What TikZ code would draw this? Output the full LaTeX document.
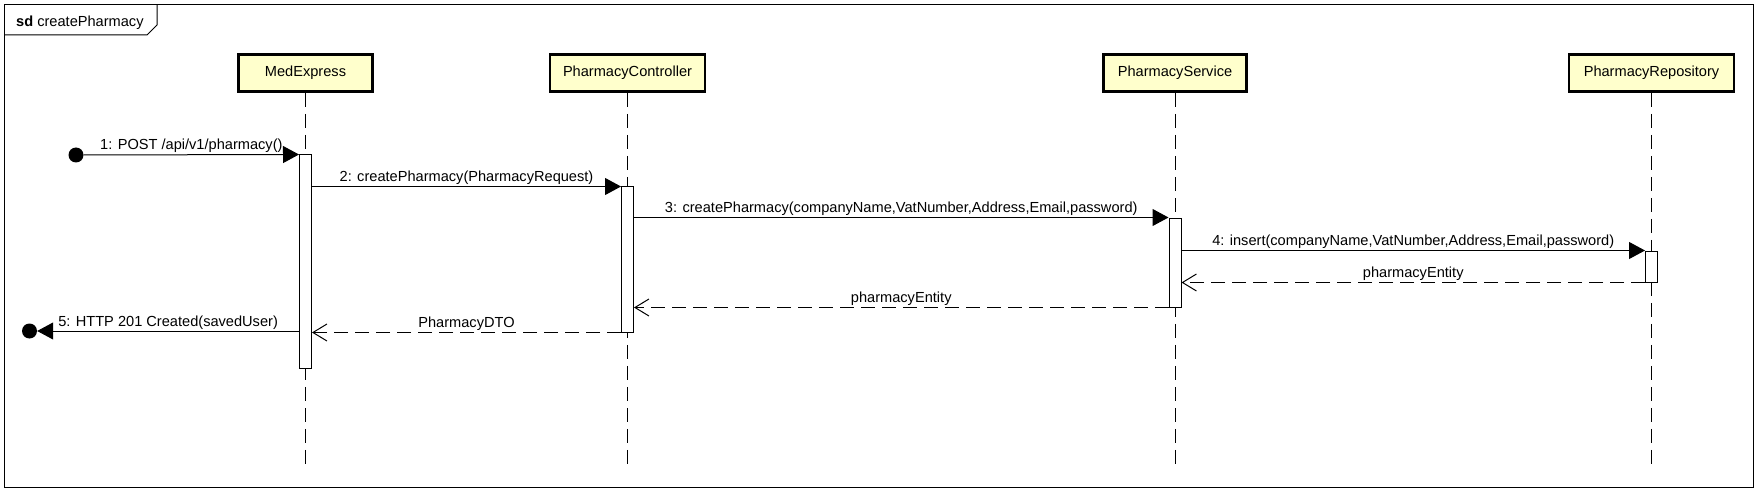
\documentclass[tikz,border=0pt]{standalone}
\usepackage{fontspec}
\setmainfont{Liberation Sans}
\usetikzlibrary{arrows.meta}
\definecolor{lifebox}{RGB}{255,255,204}
\begin{document}
\begin{tikzpicture}[x=1pt,y=-1pt,
  every node/.style={font=\fontsize{14.6}{17}\selectfont, inner sep=0pt},
  obj/.style={draw, line width=2.6pt, fill=lifebox, minimum height=37pt},
  act/.style={draw, line width=1pt, fill=white, minimum width=12pt},
  life/.style={line width=1pt, dash pattern=on 14pt off 7pt},
  call/.style={line width=1pt, -{Triangle[length=16pt,width=17pt]}},
  reply/.style={line width=1pt, dash pattern=on 14pt off 7pt, -{Straight Barb[length=14pt,width=17pt,line width=1pt]}},
  lbl/.style={anchor=base, yshift=5pt},
  enddot/.style={circle, fill=black, minimum size=15pt}
]
\useasboundingbox (0,0) rectangle (1757,492);
% frame
\draw[line width=1pt] (4,5) rectangle (1753,487);
\draw[line width=1pt] (4,35) -- (147,35) -- (157,25) -- (157,5);
\node[anchor=base west] (sdlbl) at (16,27) {\textbf{sd} createPharmacy};
% objects
\node[obj, minimum width=134pt] (med) at (305.5,73) {MedExpress};
\node[obj, minimum width=155pt] (con) at (627.5,73) {PharmacyController};
\node[obj, minimum width=143pt] (ser) at (1175,73) {PharmacyService};
\node[obj, minimum width=165pt] (rep) at (1651.5,73) {PharmacyRepository};
% lifeline ends
\coordinate (medend) at (305.5,467);
\coordinate (conend) at (627.5,467);
\coordinate (serend) at (1175,467);
\coordinate (repend) at (1651.5,467);
\draw[life] (med.south) -- (medend);
\draw[life] (con.south) -- (conend);
\draw[life] (ser.south) -- (serend);
\draw[life] (rep.south) -- (repend);
% activations
\node[act, minimum height=213pt] (a1) at (305.5,261.5) {};
\node[act, minimum height=145pt] (a2) at (627.5,259.5) {};
\node[act, minimum height=89pt] (a3) at (1175,262.5) {};
\node[act, minimum height=31pt] (a4) at (1651.5,266.5) {};
% found / lost message ends
\node[enddot] (start) at (76,155) {};
\node[enddot] (lost) at (29.5,331) {};
% messages
\draw[call] (start) -- (a1.north west) node[midway,lbl] {1: POST /api/v1/pharmacy()};
\draw[call] (a1.east |- a2.north) -- (a2.north west) node[midway,lbl] {2: createPharmacy(PharmacyRequest)};
\draw[call] (a2.east |- a3.north) -- (a3.north west) node[midway,lbl] {3: createPharmacy(companyName,VatNumber,Address,Email,password)};
\draw[call] (a3.east |- a4.north) -- (a4.north west) node[midway,lbl] {4: insert(companyName,VatNumber,Address,Email,password)};
\draw[reply] (a4.south west) -- (a3.east |- a4.south) node[midway,lbl] {pharmacyEntity};
\draw[reply] (a3.south west) -- (a2.east |- a3.south) node[midway,lbl] {pharmacyEntity};
\draw[reply] (a2.south west) -- (a1.east |- a2.south) node[midway,lbl] {PharmacyDTO};
\draw[call] (a1.west |- lost) -- (lost) node[midway,lbl] {5: HTTP 201 Created(savedUser)};
\end{tikzpicture}
\end{document}
